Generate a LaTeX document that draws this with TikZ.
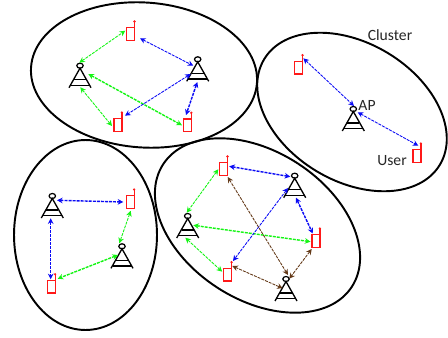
\documentclass[tikz,border=0pt]{standalone}
\usepackage{fontspec}
\setmainfont{Carlito}
\usetikzlibrary{arrows.meta,shapes.geometric}
\definecolor{linkgreen}{RGB}{20,245,20}
\definecolor{linkblue}{RGB}{10,10,245}
\definecolor{linkbrown}{RGB}{100,58,25}
\definecolor{uered}{RGB}{255,25,25}
\tikzset{
  clusternode/.style={draw=black,ellipse,line width=1.1pt,inner sep=0pt},
  apnode/.style={inner sep=0pt,minimum size=0.1cm},
  uenode/.style={inner sep=0pt,minimum size=0.1cm},
  textlabel/.style={text=black!85,font=\fontsize{8.9}{10}\selectfont,inner sep=0pt},
  link/.style={{Stealth[length=3.2pt,width=3.2pt]}-{Stealth[length=3.2pt,width=3.2pt]},dash pattern=on 1.7pt off 0.6pt,line width=0.5pt},
  thicklink/.style={link,line width=0.8pt},
  tower/.pic={
    \draw[black,line width=0.7pt] (0,0) ellipse (3.2 and 2.5);
    \draw[black,line width=0.75pt] (-11,22) -- (0,2.5) -- (11,22);
    \draw[black,line width=0.75pt] (-6,14) -- (6,14) (-9.5,19.7) -- (9.5,19.7);
  },
  handset/.pic={
    \draw[uered,line width=0.75pt] (-4,-6.2) rectangle (4,6.2) (4,-6.2) -- (4,-12.5);
    \fill[uered] (3.8,-12.5) circle (1.3);
  }
}
\begin{document}
\begin{tikzpicture}[x=0.02cm,y=-0.02cm]
  \useasboundingbox (0,0) rectangle (448,337);
  % clusters
  \node[clusternode,minimum width=4.53cm,minimum height=2.90cm,rotate=-4] (cluster1) at (144,75) {};
  \node[clusternode,minimum width=4.10cm,minimum height=2.76cm,rotate=-31] (cluster2) at (352,112) {};
  \node[clusternode,minimum width=2.86cm,minimum height=3.80cm] (cluster3) at (85.5,235) {};
  \node[clusternode,minimum width=4.50cm,minimum height=2.96cm,rotate=-33] (cluster4) at (257.5,225.5) {};
  % access points
  \foreach \n/\x/\y in {ap1/80/65.7, ap2/197.7/59.3, ap3/353.3/109, ap4/52.3/196, ap5/122/246.3, ap6/187.7/216, ap7/294.7/175.7, ap8/286/279} {
    \node[apnode] (\n) at (\x,\y) {};
    \pic at (\n) {tower};
  }
  % users
  \foreach \n/\x/\y in {ue1/130.7/34, ue2/118/125, ue3/187.5/125.3, ue4/298.7/67.7, ue5/417/156, ue6/130.3/202, ue7/51.3/286.7, ue8/223.7/169, ue9/316/241, ue10/227.7/274.7} {
    \node[uenode] (\n) at (\x,\y) {};
    \pic at (\n) {handset};
  }
  % green links
  \foreach \a/\ax/\ay/\b/\bx/\by/\s in {ap1/-0.7/-3/ue1/-5.4/-3.3/link, ap1/8.3/8.3/ue3/-5.5/0/thicklink, ap1/0.3/21.6/ue2/-6/1/link, ue8/-5.4/0.3/ap6/-1/-3.3/link, ap6/5.6/9.3/ue9/-5.5/0.7/thicklink, ap6/-2.4/21.7/ue10/-5.5/-3/link, ue6/0.4/8.8/ap5/-2.7/-3/link, ap5/-4/8.7/ue7/6.4/-8/thicklink} {
    \draw[\s,linkgreen] ([shift={(\ax,\ay)}]\a.center) -- ([shift={(\bx,\by)}]\b.center);
  }
  % blue links
  \foreach \a/\ax/\ay/\b/\bx/\by/\s in {ue1/9.3/4.3/ap2/-4.4/6.4/link, ap2/-7/14.7/ue2/7/-9.3/link, ap2/-0.4/22.7/ue3/-1.5/-10.3/thicklink, ue4/4.6/-9.4/ap3/0.7/-3/link, ap3/4.4/3.3/ue5/1.3/-10.3/link, ue8/5.5/-2.7/ap7/-4.4/1/thicklink, ap7/-6.7/12.3/ue10/5.3/-13.7/link, ap7/1.3/22/ue9/-3.3/-7.5/thicklink, ap4/4.7/4.3/ue6/-7/0/thicklink, ap4/-1.6/22.3/ue7/-0.6/-7.4/thicklink} {
    \draw[\s,linkblue] ([shift={(\ax,\ay)}]\a.center) -- ([shift={(\bx,\by)}]\b.center);
  }
  % brown links
  \foreach \a/\ax/\ay/\b/\bx/\by in {ue8/4/8/ap8/2/-4, ue9/-4.3/8/ap8/3.3/-0.3, ue10/4.6/-8.7/ap8/-3.3/9.3} {
    \draw[link,linkbrown] ([shift={(\ax,\ay)}]\a.center) -- ([shift={(\bx,\by)}]\b.center);
  }
  % labels
  \node[textlabel] (clusterlabel) at (390,35) {Cluster};
  \node[textlabel] (aplabel) at (367,105) {AP};
  \node[textlabel] (userlabel) at (392,161) {User};
\end{tikzpicture}
\end{document}
